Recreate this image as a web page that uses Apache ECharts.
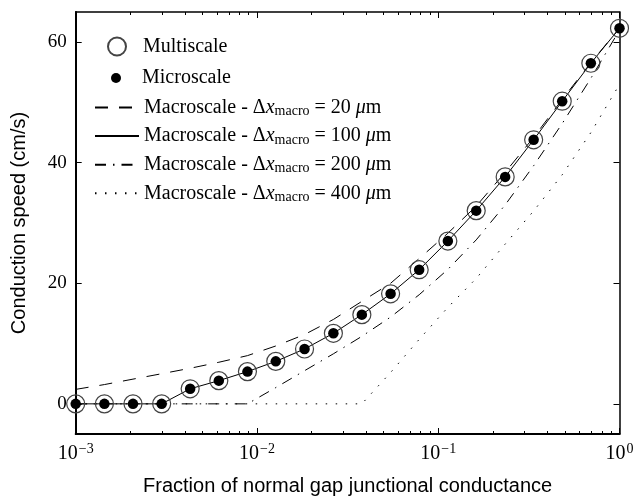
<!DOCTYPE html>
<html><head><meta charset="utf-8">
<script src="https://cdn.jsdelivr.net/npm/echarts@6/dist/echarts.min.js"></script>
<style>html,body{margin:0;padding:0;background:#fff}#c{width:633px;height:496px}</style>
</head><body><div id="c"></div>
<script>
// Fraction of normal gap junctional conductance (x values, log-spaced samples)
const fraction = [0.001, 0.00144, 0.00207, 0.00298, 0.00428, 0.00616, 0.00886, 0.0127, 0.0183, 0.0264,
                  0.0379, 0.0546, 0.0785, 0.113, 0.162, 0.234, 0.336, 0.483, 0.695, 1];
// Conduction speed (cm/s)
const multiscale = [0, 0, 0, 0, 2.5, 3.85, 5.35, 7.05, 9.1, 11.7, 14.8, 18.25, 22.25, 27.0, 32.05, 37.65, 43.8, 50.2, 56.5, 62.3];
const microscale = [0, 0, 0, 0, 2.5, 3.85, 5.35, 7.05, 9.1, 11.7, 14.8, 18.25, 22.25, 27.0, 32.05, 37.65, 43.8, 50.2, 56.5, 62.3];
const macro20  = [2.4, 3.2, 4.1, 5.0, 5.9, 6.9, 8.0, 9.6, 11.5, 14.0, 17.0, 20.0, 24.1, 28.3, 32.8, 38.4, 44.2, 50.5, 56.6, 62.3];
const macro100 = [0, 0, 0, 0, 2.5, 3.85, 5.35, 7.05, 9.1, 11.7, 14.8, 18.25, 22.25, 27.0, 32.05, 37.65, 43.8, 50.2, 56.5, 62.3];
const macro200 = [0, 0, 0, 0, 0, 0, 0, 2.7, 5.5, 8.3, 11.2, 14.4, 18.1, 22.3, 27.2, 33.0, 39.5, 46.5, 54.0, 62.0];
const macro400 = [0, 0, 0, 0, 0, 0, 0, 0, 0, 0, 0, 5.2, 10.7, 16.0, 20.8, 26.5, 32.0, 38.0, 45.0, 53.0];

const yTicks = [0, 20, 40, 60];
const xMinorTicks = [0.002,0.003,0.004,0.005,0.006,0.007,0.008,0.009,
                     0.02,0.03,0.04,0.05,0.06,0.07,0.08,0.09,
                     0.2,0.3,0.4,0.5,0.6,0.7,0.8,0.9];
const seriesNames = ['Multiscale', 'Microscale',
  'Macroscale - Δx_macro = 20 μm', 'Macroscale - Δx_macro = 100 μm',
  'Macroscale - Δx_macro = 200 μm', 'Macroscale - Δx_macro = 400 μm'];

const pairs = arr => fraction.map((f, i) => [f, arr[i]]);
const SERIF = 'Liberation Serif';
const SANS = 'Liberation Sans';

function legendText(padLeft) {
  return {
    fontFamily: SERIF, fontSize: 20, color: '#000', padding: [0, 0, 0, padLeft],
    rich: {
      a: { fontFamily: SERIF, fontSize: 20, color: '#000', lineHeight: 22 },
      i: { fontFamily: SERIF, fontSize: 20, fontStyle: 'italic', color: '#000', lineHeight: 22 },
      s: { fontFamily: SERIF, fontSize: 14, color: '#000', lineHeight: 14, padding: [8, 0, 0, 0] }
    }
  };
}
function legendFmt(name) {
  const m = name.match(/^Macroscale - Δx_macro = (\d+) μm$/);
  if (!m) return '{a|' + name + '}';
  return '{a|Macroscale - Δ}{i|x}{s|macro}{a| = ' + m[1] + ' }{i|μ}{a|m}';
}

const xBase = { type: 'log', logBase: 10, min: 0.001, max: 1, gridIndex: 0, splitLine: { show: false } };
const xAxes = [
  Object.assign({}, xBase, {
    position: 'bottom',
    axisLine: { show: true, onZero: false, lineStyle: { color: '#000', width: 2 } },
    axisTick: { show: true, inside: true, length: 6, lineStyle: { color: '#000', width: 1 } },
    axisLabel: {
      show: true, margin: 10, color: '#000',
      formatter: v => {
        const e = Math.round(Math.log10(v));
        return '{b|10}{s|' + (e < 0 ? '−' + (-e) : e) + '}';
      },
      rich: {
        b: { fontFamily: SERIF, fontSize: 20, color: '#000', lineHeight: 20 },
        s: { fontFamily: SERIF, fontSize: 14, color: '#000', lineHeight: 14, padding: [0, 0, 9, 1] }
      }
    },
    name: 'Fraction of normal gap junctional conductance',
    nameLocation: 'middle', nameGap: 42,
    nameTextStyle: { fontFamily: SANS, fontSize: 20, color: '#000' }
  }),
  Object.assign({}, xBase, {
    position: 'bottom',
    axisLine: { show: false, onZero: false },
    axisTick: { show: true, inside: true, length: 3, customValues: xMinorTicks, lineStyle: { color: '#000', width: 1 } },
    axisLabel: { show: false }
  }),
  Object.assign({}, xBase, {
    position: 'top',
    axisLine: { show: true, onZero: false, lineStyle: { color: '#000', width: 1.5 } },
    axisTick: { show: true, inside: true, length: 6, lineStyle: { color: '#000', width: 1 } },
    axisLabel: { show: false }
  }),
  Object.assign({}, xBase, {
    position: 'top',
    axisLine: { show: false, onZero: false },
    axisTick: { show: true, inside: true, length: 3, customValues: xMinorTicks, lineStyle: { color: '#000', width: 1 } },
    axisLabel: { show: false }
  })
];

const yBase = { type: 'value', min: -5, max: 65, gridIndex: 0, splitLine: { show: false } };
const yAxes = [
  Object.assign({}, yBase, {
    position: 'left',
    axisLine: { show: true, onZero: false, lineStyle: { color: '#000', width: 2 } },
    axisTick: { show: true, inside: true, length: 6, customValues: yTicks, lineStyle: { color: '#000', width: 1 } },
    axisLabel: { show: true, customValues: yTicks, margin: 9, color: '#000', fontFamily: SERIF, fontSize: 19 },
    name: 'Conduction speed (cm/s)',
    nameLocation: 'middle', nameGap: 46, nameRotate: 90,
    nameTextStyle: { fontFamily: SANS, fontSize: 20, color: '#000' }
  }),
  Object.assign({}, yBase, {
    position: 'right',
    axisLine: { show: true, onZero: false, lineStyle: { color: '#000', width: 1.5 } },
    axisTick: { show: true, inside: true, length: 6, customValues: yTicks, lineStyle: { color: '#000', width: 1 } },
    axisLabel: { show: false }
  })
];

function lineSeries(name, arr, type) {
  return {
    name, type: 'line', data: pairs(arr), xAxisIndex: 0, yAxisIndex: 0,
    symbol: 'none', showSymbol: false, clip: false, z: 2,
    lineStyle: { color: '#000', width: 1, type: type, opacity: 1 },
    itemStyle: { color: '#000' }, emphasis: { disabled: true }, animation: false
  };
}

const option = {
  backgroundColor: '#fff',
  animation: false,
  grid: { left: 75.7, right: 13.5, top: 12, bottom: 62, containLabel: false, outerBoundsMode: 'none' },
  xAxis: xAxes,
  yAxis: yAxes,
  legend: [
    { data: ['Multiscale'], orient: 'vertical', left: 107, top: 36.5, padding: 0,
      itemWidth: 18, itemHeight: 18, itemGap: 0, selectedMode: false,
      textStyle: legendText(12), formatter: legendFmt },
    { data: ['Microscale'], orient: 'vertical', left: 111, top: 68, padding: 0,
      itemWidth: 10, itemHeight: 10, itemGap: 0, selectedMode: false,
      textStyle: legendText(16), formatter: legendFmt },
    { data: seriesNames.slice(2), orient: 'vertical', left: 94, top: 96.5, padding: 0,
      itemWidth: 44, itemHeight: 22, itemGap: 6.6, selectedMode: false,
      itemStyle: { opacity: 0 },
      textStyle: legendText(0), formatter: legendFmt }
  ],
  series: [
    lineSeries(seriesNames[2], macro20, [13, 11]),
    lineSeries(seriesNames[3], macro100, 'solid'),
    lineSeries(seriesNames[4], macro200, [11, 7, 1.5, 7]),
    lineSeries(seriesNames[5], macro400, [1.5, 8.5]),
    {
      name: seriesNames[0], type: 'scatter', data: pairs(multiscale), xAxisIndex: 0, yAxisIndex: 0,
      symbol: 'circle', symbolSize: 18, clip: false, z: 3,
      itemStyle: { color: 'rgba(0,0,0,0)', borderColor: '#444', borderWidth: 1.2, opacity: 1 },
      emphasis: { disabled: true }
    },
    {
      name: seriesNames[1], type: 'scatter', data: pairs(microscale), xAxisIndex: 0, yAxisIndex: 0,
      symbol: 'circle', symbolSize: 10.5, clip: false, z: 4,
      itemStyle: { color: '#000', borderWidth: 0, opacity: 1 },
      emphasis: { disabled: true }
    }
  ]
};
const chart = echarts.init(document.getElementById('c'), null, { renderer: 'canvas' });
chart.setOption(option);
</script></body></html>
